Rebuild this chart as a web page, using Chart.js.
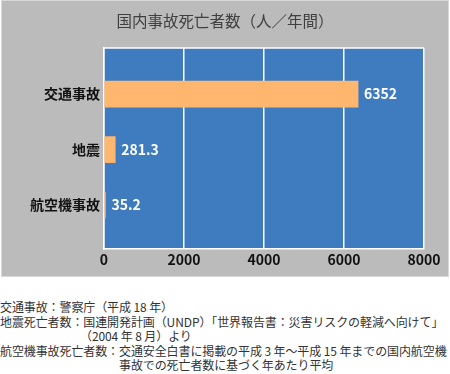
<!DOCTYPE html>
<html lang="ja">
<head>
<meta charset="utf-8">
<script src="https://cdn.jsdelivr.net/npm/chart.js@4/dist/chart.umd.min.js"></script>
<style>
  body { margin: 0; background: #fff; width: 450px; height: 374px; overflow: hidden; position: relative; }
  #box { position: absolute; left: 1px; top: 0; width: 446px; height: 275px; border: 1px solid #d8d8d8; background: #bbbbbb; }
  #notes { position: absolute; left: 0; top: 300px; font-family: "Noto Sans CJK JP", sans-serif; font-size: 12px; line-height: 14.5px; color: #333; letter-spacing: -0.1px; white-space: nowrap; }
</style>
</head>
<body>
<div id="box"><canvas id="chart" width="446" height="275"></canvas></div>
<div id="notes">
  <div>交通事故：警察庁（平成 18 年）</div>
  <div>地震死亡者数：国連開発計画（UNDP）「世界報告書：災害リスクの軽減へ向けて」</div>
  <div style="padding-left:80px">（2004 年 8 月）より</div>
  <div>航空機事故死亡者数：交通安全白書に掲載の平成 3 年〜平成 15 年までの国内航空機</div>
  <div style="padding-left:119px">事故での死亡者数に基づく年あたり平均</div>
</div>
<script>
const title = "国内事故死亡者数（人／年間）";
const categories = ["交通事故", "地震", "航空機事故"];
const deaths = [6352, 281.3, 35.2];
const xMax = 8000;
const xStep = 2000;

const FONT = '"Noto Sans CJK JP", sans-serif';
Chart.defaults.font.family = FONT;

// blue plot area, white top edge, title
const plotBg = {
  id: "plotBg",
  beforeDraw(chart) {
    let a = chart.chartArea, ctx = chart.ctx;
    ctx.save();
    ctx.fillStyle = "#3f7bbf";
    ctx.fillRect(a.left, a.top, a.right - a.left, a.bottom - a.top);
    ctx.strokeStyle = "#fff";
    ctx.lineWidth = 1.5;
    ctx.beginPath();
    ctx.moveTo(a.left, a.top);
    ctx.lineTo(a.right, a.top);
    ctx.stroke();
    ctx.fillStyle = "#404040";
    ctx.font = "15.5px " + FONT;
    ctx.textAlign = "center";
    ctx.textBaseline = "middle";
    ctx.fillText(title, chart.width / 2, 20);
    ctx.restore();
  }
};

// value labels right of each bar
const valueLabels = {
  id: "valueLabels",
  afterDatasetsDraw(chart) {
    let ctx = chart.ctx;
    let meta = chart.getDatasetMeta(0);
    ctx.save();
    ctx.fillStyle = "#fff";
    ctx.font = "bold 14px " + FONT;
    ctx.textBaseline = "middle";
    meta.data.forEach((bar, i) => {
      ctx.fillText(String(deaths[i]), bar.x + 6, bar.y);
    });
    ctx.restore();
  }
};

new Chart(document.getElementById("chart"), {
  type: "bar",
  data: {
    datasets: [{
      data: deaths.map((v, i) => ({ x: v, y: i + 1 })),
      backgroundColor: "#ffb66f",
      borderWidth: 0,
      barThickness: 26
    }]
  },
  options: {
    indexAxis: "y",
    responsive: false,
    animation: false,
    layout: { padding: { left: 0, right: 24, top: 47, bottom: 0 } },
    plugins: {
      legend: { display: false },
      tooltip: { enabled: false },
      title: { display: false }
    },
    scales: {
      x: {
        type: "linear",
        min: 0,
        max: xMax,
        ticks: { stepSize: xStep, color: "#111", padding: 2, font: { size: 14, weight: "bold" }, callback: v => String(v) },
        grid: { color: "#fff", lineWidth: 1.5, drawTicks: false },
        border: { color: "#fff", width: 1.5 },
        afterFit: s => { s.height = 27; }
      },
      y: {
        type: "linear",
        reverse: true,
        offset: false,
        min: 0.17,
        max: 3.79,
        afterBuildTicks: s => { s.ticks = categories.map((c, i) => ({ value: i + 1 })); },
        ticks: {
          color: "#111",
          padding: 4,
          autoSkip: false,
          font: { size: 14, weight: "bold" },
          callback: v => categories[v - 1]
        },
        grid: { display: false, drawTicks: false, offset: false },
        border: { color: "#fff", width: 1.5 },
        afterFit: s => { s.width = 102; }
      }
    }
  },
  plugins: [plotBg, valueLabels]
});
</script>
</body>
</html>
